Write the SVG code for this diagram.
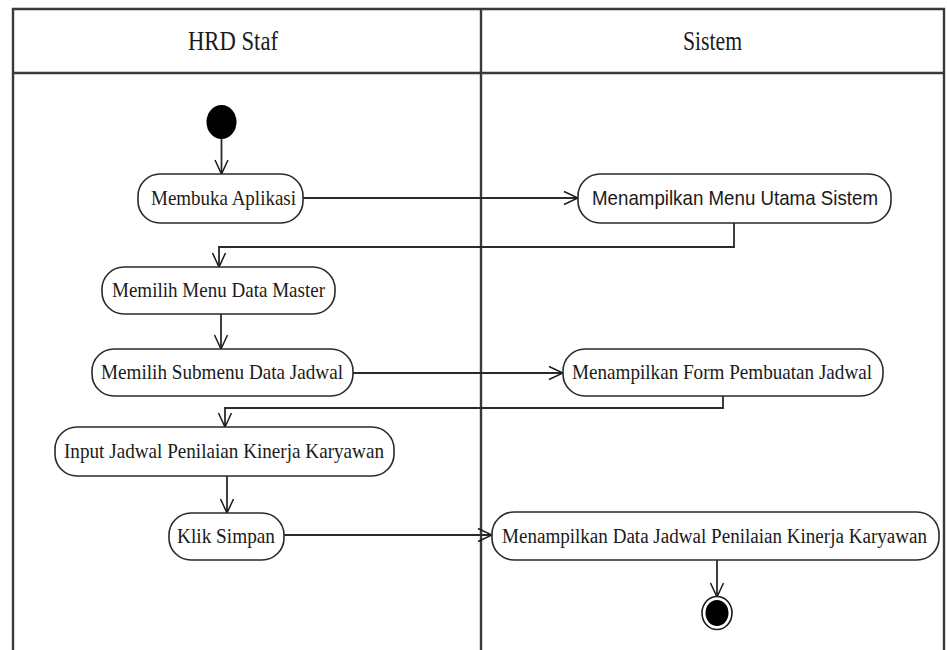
<svg xmlns="http://www.w3.org/2000/svg" width="947" height="650" viewBox="0 0 947 650">
  <style>
    .frame { fill: none; stroke: #3a3a3a; stroke-width: 2.4; }
    .node rect { fill: #ffffff; stroke: #2a2a2a; stroke-width: 1.6; }
    .serif { font-family: "Liberation Serif", "Times New Roman", serif; fill: #1a1a1a; }
    .sans { font-family: "Liberation Sans", Arial, sans-serif; fill: #1a1a1a; }
    .edge { fill: none; stroke: #2a2a2a; stroke-width: 1.8; marker-end: url(#open); }
  </style>
  <defs>
    <marker id="open" viewBox="0 0 16 16" refX="15" refY="8" markerWidth="16" markerHeight="16" markerUnits="userSpaceOnUse" orient="auto">
      <path d="M1,1.5 L15,8 L1,14.5" fill="none" stroke="#1a1a1a" stroke-width="1.5"/>
    </marker>
  </defs>
  <rect width="947" height="650" fill="#ffffff"/>

  <!-- swimlane frame -->
  <g id="lanes">
    <path class="frame" d="M13,650 V9 H944 V650"/>
    <path class="frame" d="M13,73 H944"/>
    <path class="frame" d="M481,9 V650"/>
    <text class="serif" x="188" y="50" font-size="27" textLength="90" lengthAdjust="spacingAndGlyphs">HRD Staf</text>
    <text class="serif" x="683" y="50" font-size="27" textLength="59" lengthAdjust="spacingAndGlyphs">Sistem</text>
  </g>

  <!-- connectors -->
  <g id="connectors">
    <path class="edge" d="M221.5,139 V174"/>
    <path class="edge" d="M303,198 H578"/>
    <path class="edge" d="M734,223 V247 H219 V267"/>
    <path class="edge" d="M221,314 V349"/>
    <path class="edge" d="M353,373 H563"/>
    <path class="edge" d="M723,396 V408 H225 V427"/>
    <path class="edge" d="M227,476 V513"/>
    <path class="edge" d="M284,535 H492"/>
    <path class="edge" d="M717,560 V597"/>
  </g>

  <g id="start">
    <ellipse cx="221.5" cy="122" rx="15" ry="17" fill="#000000"/>
  </g>

  <g id="membuka-aplikasi" class="node">
    <rect x="138" y="174" width="165" height="49" rx="22" ry="22"/>
    <text class="serif" x="151" y="205" font-size="21.5" textLength="145" lengthAdjust="spacingAndGlyphs">Membuka Aplikasi</text>
  </g>

  <g id="menu-utama" class="node">
    <rect x="578" y="174" width="313" height="49" rx="22" ry="22"/>
    <text class="sans" x="592" y="205" font-size="21" textLength="286" lengthAdjust="spacingAndGlyphs">Menampilkan Menu Utama Sistem</text>
  </g>

  <g id="menu-data-master" class="node">
    <rect x="102" y="267" width="233" height="47" rx="22" ry="22"/>
    <text class="serif" x="112" y="297" font-size="21.5" textLength="213" lengthAdjust="spacingAndGlyphs">Memilih Menu Data Master</text>
  </g>

  <g id="submenu-data-jadwal" class="node">
    <rect x="92" y="349" width="261" height="47" rx="22" ry="22"/>
    <text class="serif" x="101" y="379" font-size="21.5" textLength="242" lengthAdjust="spacingAndGlyphs">Memilih Submenu Data Jadwal</text>
  </g>

  <g id="form-pembuatan-jadwal" class="node">
    <rect x="563" y="349" width="320" height="47" rx="22" ry="22"/>
    <text class="serif" x="572" y="379" font-size="21.5" textLength="300" lengthAdjust="spacingAndGlyphs">Menampilkan Form Pembuatan Jadwal</text>
  </g>

  <g id="input-jadwal" class="node">
    <rect x="55" y="427" width="339" height="49" rx="22" ry="22"/>
    <text class="serif" x="64" y="458" font-size="21.5" textLength="320" lengthAdjust="spacingAndGlyphs">Input Jadwal Penilaian Kinerja Karyawan</text>
  </g>

  <g id="klik-simpan" class="node">
    <rect x="169" y="513" width="115" height="47" rx="22" ry="22"/>
    <text class="serif" x="177" y="543" font-size="21.5" textLength="98" lengthAdjust="spacingAndGlyphs">Klik Simpan</text>
  </g>

  <g id="data-jadwal" class="node">
    <rect x="492" y="512" width="447" height="48" rx="22" ry="22"/>
    <text class="serif" x="502" y="543" font-size="20" textLength="425" lengthAdjust="spacingAndGlyphs">Menampilkan Data Jadwal Penilaian Kinerja Karyawan</text>
  </g>

  <g id="end">
    <ellipse cx="717" cy="613" rx="15" ry="16.5" fill="#ffffff" stroke="#1a1a1a" stroke-width="1.6"/>
    <ellipse cx="717" cy="613" rx="11.5" ry="13" fill="#000000"/>
  </g>
</svg>
